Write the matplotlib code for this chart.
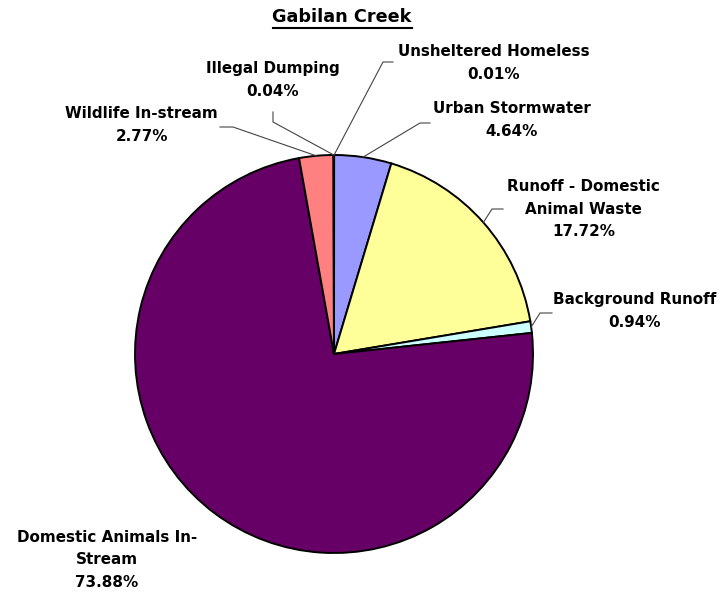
import numpy as np
import matplotlib.pyplot as plt

plt.rcParams["font.family"] = ["DejaVu Sans"]

# data, clockwise from 12 o'clock
sources = ["Unsheltered Homeless", "Urban Stormwater", "Runoff - Domestic\nAnimal Waste",
           "Background Runoff", "Domestic Animals In-\nStream", "Wildlife In-stream",
           "Illegal Dumping"]
percent = [0.01, 4.64, 17.72, 0.94, 73.88, 2.77, 0.04]
colors = ["#993366", "#9999FF", "#FFFF99", "#CCFFFF", "#660066", "#FF8080", "#FFFFCC"]

W, H = 724, 598
fig = plt.figure(figsize=(W / 100, H / 100), dpi=100)
ax = fig.add_axes([0, 0, 1, 1])

def Y(p):
    return H - p

cx, cy, r = 334, Y(354), 199
wedges, _ = ax.pie(percent, colors=colors, startangle=90, counterclock=False,
                   center=(cx, cy), radius=r, frame=True,
                   wedgeprops=dict(edgecolor="black", linewidth=1.4))
ax.set_xlim(0, W)
ax.set_ylim(0, H)
ax.set_aspect("equal")
ax.axis("off")

# label anchors (pixels, alignment) and leader elbows / ends
label_pos = [(398, 63, "left"), (433, 120, "left"), (507, 209, "left"), (553, 311, "left"),
             (17, 560, "left"), (218, 125, "right"), (273, 80, "center")]
leaders = [
    [(383, 62), (393, 62)],
    [(420, 123), (430, 123)],
    [(492, 209), (503, 209)],
    [(540, 313), (552, 313)],
    None,
    [(233, 127), (220, 127)],
    [(273, 122), (273, 112)],
]

for w, name, pct, pos, ld in zip(wedges, sources, percent, label_pos, leaders):
    ax.text(pos[0], Y(pos[1]), f"{name}\n{pct:.2f}%", ha=pos[2], va="center",
            multialignment="center", fontsize=10.9, fontweight="bold", linespacing=1.65)
    if ld is None:
        continue
    ang = np.deg2rad((w.theta1 + w.theta2) / 2)
    sx, sy = cx + r * np.cos(ang), cy + r * np.sin(ang)
    xs = [sx] + [p[0] for p in ld]
    ys = [sy] + [Y(p[1]) for p in ld]
    ax.plot(xs, ys, color="#444444", linewidth=0.8)

ax.text(342, Y(17), "Gabilan Creek", ha="center", va="center",
        fontsize=12.7, fontweight="bold")
ax.plot([273, 412], [Y(28), Y(28)], color="black", linewidth=1.5)

fig.savefig("out.png", dpi=100)
